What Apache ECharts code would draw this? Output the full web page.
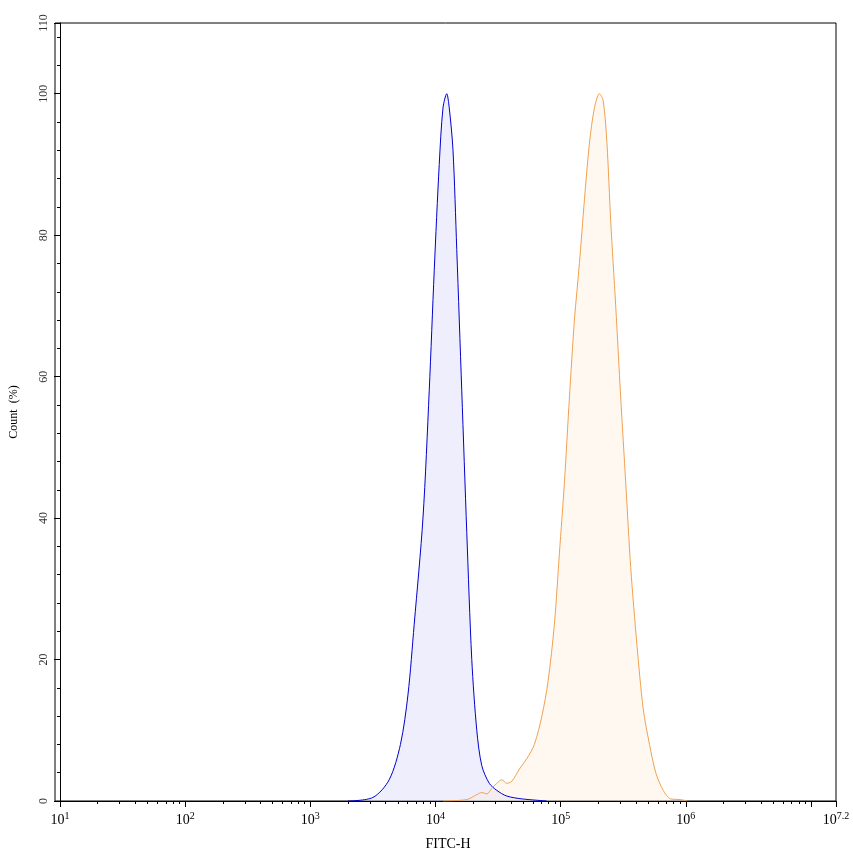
<!DOCTYPE html>
<html><head><meta charset="utf-8">
<script src="https://cdn.jsdelivr.net/npm/echarts@6/dist/echarts.min.js"></script>
<style>html,body{margin:0;padding:0;background:#fff}#c{width:853px;height:856px}</style>
</head><body><div id="c"></div>
<script>
// x values are log10(FITC-H)
const blueX = [3.30,3.50,3.63,3.72,3.78,3.83,3.90,3.95,3.99,4.03,4.06,4.09,4.11,4.14,4.17,4.21,4.25,4.29,4.33,4.37,4.43,4.49,4.57,4.69,4.89];
const blueY = [0,0.5,3,8,15,25,40,58,75,90,98,100,98,92,78,58,38,20,10,5,2.5,1.5,0.7,0.3,0];
const orangeX = [4.06,4.25,4.32,4.37,4.41,4.45,4.49,4.53,4.57,4.61,4.67,4.73,4.79,4.85,4.90,4.95,4.99,5.03,5.07,5.11,5.15,5.19,5.23,5.27,5.31,5.34,5.37,5.40,5.44,5.48,5.52,5.56,5.61,5.66,5.71,5.76,5.82,5.88,5.96,6.01];
const orangeY = [0,0.2,0.8,1.2,1,1.8,2.5,3,2.5,2.8,4.5,6,8,12,17,25,35,45,57,68,76,85,93,98,100,99,93,82,70,57,45,33,22,13,8,4,1.5,0.3,0.2,0];
const xLabels = [1,2,3,4,5,6,7.2];
const xMajor = [1,2,3,4,5,6,7,7.2];
const yMajor = [0,20,40,60,80,100,110];

const xMinor = [];
for (let d = 1; d < 7.2; d++) for (let k = 2; k <= 9; k++) { const v = d + Math.log10(k); if (v < 7.2) xMinor.push(v); }
const yMinor = [];
for (let v = 0; v <= 108; v += 4) yMinor.push(v);

const font = 'Liberation Serif';
const sup = v => '10{s|' + String(v) + '}';
const chart = echarts.init(document.getElementById('c'));
const axisLine = {show:true, lineStyle:{color:'#000', width:1}};
chart.setOption({
  animation:false,
  grid:{left:55, right:17, top:23, bottom:55},
  xAxis:[
    {type:'value', min:1, max:7.2, axisLine, splitLine:{show:false},
     name:'FITC-H', nameLocation:'middle', nameGap:36, nameTextStyle:{fontFamily:font, fontSize:14, color:'#000'},
     axisTick:{customValues:xMajor, length:6, lineStyle:{color:'#000'}},
     axisLabel:{customValues:xLabels, formatter:v=>sup(Math.round(v*10)/10), fontFamily:font, fontSize:14, color:'#000', margin:10,
       rich:{s:{fontFamily:font, fontSize:10, verticalAlign:'top', padding:[0,0,8,0], color:'#000'}}}},
    {type:'value', min:1, max:7.2, position:'bottom', axisLine:{show:false}, splitLine:{show:false},
     axisTick:{show:true, customValues:xMinor, length:3, lineStyle:{color:'#000'}}, axisLabel:{show:false}}
  ],
  yAxis:[
    {type:'value', min:0, max:110, axisLine, splitLine:{show:false},
     name:'Count  (%)', nameLocation:'middle', nameGap:40, nameTextStyle:{fontFamily:font, fontSize:12, color:'#000'},
     axisTick:{customValues:yMajor, length:6, lineStyle:{color:'#000'}},
     axisLabel:{customValues:yMajor, rotate:90, fontFamily:font, fontSize:12, color:'#333', margin:10}},
    {type:'value', min:0, max:110, position:'left', axisLine:{show:false}, splitLine:{show:false},
     axisTick:{show:true, customValues:yMinor, length:3, lineStyle:{color:'#000'}}, axisLabel:{show:false}}
  ],
  series:[
    {type:'line', data:blueX.map((x,i)=>[x,blueY[i]]), smooth:0.3, showSymbol:false,
     lineStyle:{color:'#0000cc', width:1}, areaStyle:{color:'rgba(215,215,250,0.6)'}},
    {type:'line', data:orangeX.map((x,i)=>[x,orangeY[i]]), smooth:0.3, showSymbol:false,
     lineStyle:{color:'#f0a050', width:1}, areaStyle:{color:'rgba(253,235,215,0.5)'}},
  ],
  graphic:[{type:'rect', shape:{x:55,y:23,width:781,height:778}, style:{fill:'none', stroke:'#000', lineWidth:1}, silent:true}]
});
</script></body></html>
